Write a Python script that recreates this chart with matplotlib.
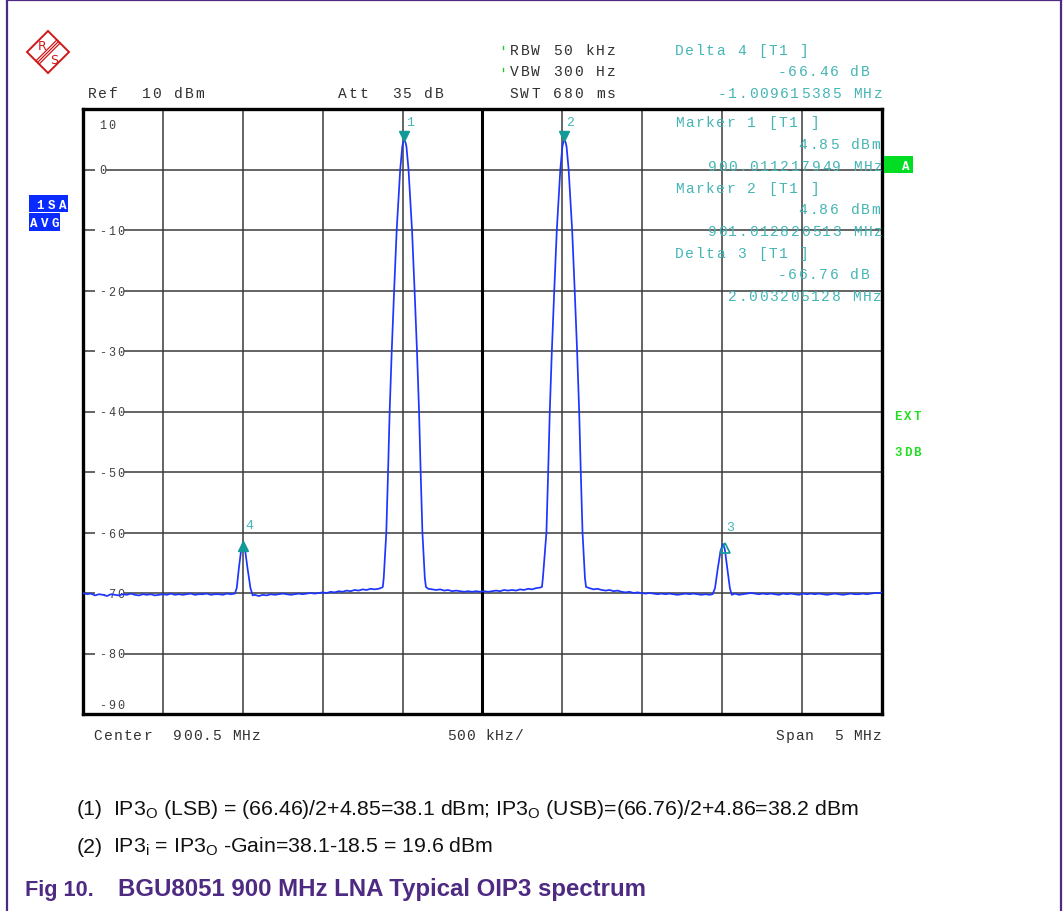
import numpy as np
import matplotlib
matplotlib.use('Agg')
import matplotlib.pyplot as plt
from matplotlib.patches import Rectangle, Polygon
from matplotlib.transforms import Affine2D, blended_transform_factory, offset_copy

# Analyzer settings
center_mhz = 900.5
span_mhz = 5.0
ref_dbm = 10
div_db = 10

# Markers read from the readout (marker 1/2 normal, 3/4 delta to marker 1)
marker_names = ['1', '2', '3', '4']
marker_mhz = [900.011217949, 901.012820513, 902.014423077, 899.001602564]
marker_dbm = [4.85, 4.86, -61.91, -61.61]

# Trace
trace_mhz = [
    898.000, 898.025, 898.050, 898.075, 898.100, 898.125, 898.150, 898.175, 898.200, 898.225,
    898.250, 898.275, 898.300, 898.325, 898.350, 898.375, 898.400, 898.425, 898.450, 898.475,
    898.500, 898.525, 898.550, 898.575, 898.600, 898.625, 898.650, 898.675, 898.700, 898.725,
    898.750, 898.775, 898.800, 898.825, 898.850, 898.875, 898.900, 898.925, 898.950,
    898.962, 898.975, 898.990, 899.002, 899.013, 899.030, 899.048, 899.062,
    899.075, 899.100, 899.125, 899.150, 899.175, 899.200, 899.225, 899.250, 899.275, 899.300,
    899.325, 899.350, 899.375, 899.400, 899.425, 899.450, 899.475, 899.500, 899.525, 899.550,
    899.575, 899.600, 899.625, 899.650, 899.675, 899.700, 899.725, 899.750, 899.775, 899.800,
    899.825, 899.850, 899.870,
    899.876, 899.882, 899.898, 899.909, 899.919, 899.932, 899.947, 899.963, 899.985, 899.998,
    900.005, 900.011, 900.017, 900.024, 900.037, 900.059, 900.075, 900.090, 900.103, 900.113,
    900.124, 900.139, 900.146,
    900.160, 900.185, 900.210, 900.235, 900.260, 900.285, 900.310, 900.335, 900.360, 900.385,
    900.410, 900.435, 900.460, 900.485, 900.510, 900.535, 900.560, 900.585, 900.610, 900.635,
    900.660, 900.685, 900.710, 900.735, 900.760, 900.785, 900.810, 900.835, 900.860, 900.872,
    900.878, 900.900, 900.911, 900.921, 900.934, 900.949, 900.965, 900.987, 901.000, 901.007,
    901.013, 901.019, 901.026, 901.039, 901.061, 901.077, 901.092, 901.105, 901.115, 901.126,
    901.141, 901.148,
    901.170, 901.195, 901.220, 901.245, 901.270, 901.295, 901.320, 901.345, 901.370, 901.395,
    901.420, 901.445, 901.470, 901.495, 901.520, 901.545, 901.570, 901.595, 901.620, 901.645,
    901.670, 901.695, 901.720, 901.745, 901.770, 901.795, 901.820, 901.845, 901.870, 901.895,
    901.920, 901.940,
    901.955, 901.972, 901.990, 902.005, 902.016, 902.032, 902.048, 902.060,
    902.080, 902.105, 902.130, 902.155, 902.180, 902.205, 902.230, 902.255, 902.280, 902.305,
    902.330, 902.355, 902.380, 902.405, 902.430, 902.455, 902.480, 902.505, 902.530, 902.555,
    902.580, 902.605, 902.630, 902.655, 902.680, 902.705, 902.730, 902.755, 902.780, 902.805,
    902.830, 902.855, 902.880, 902.905, 902.930, 902.955, 902.980, 903.000,
]
trace_dbm = [
    -70.0, -70.2, -70.1, -70.4, -70.2, -70.3, -70.5, -70.2, -70.3, -70.4,
    -70.2, -70.3, -70.1, -70.3, -70.4, -70.2, -70.3, -70.2, -70.4, -70.3,
    -70.2, -70.3, -70.1, -70.3, -70.2, -70.3, -70.2, -70.1, -70.3, -70.2,
    -70.2, -70.1, -70.3, -70.2, -70.2, -70.3, -70.1, -70.2, -70.1,
    -69.2, -66.0, -62.8, -61.6, -62.6, -66.0, -69.2, -70.4,
    -70.3, -70.5, -70.3, -70.4, -70.2, -70.3, -70.2, -70.1, -70.2, -70.3,
    -70.2, -70.1, -70.2, -70.1, -70.0, -70.1, -70.0, -69.9, -70.0, -69.8,
    -69.9, -69.7, -69.8, -69.6, -69.7, -69.5, -69.6, -69.4, -69.5, -69.3,
    -69.4, -69.3, -69.1,
    -69.0, -67.5, -60.0, -50.0, -40.0, -30.0, -20.0, -10.0, 0.0, 3.8,
    4.6, 4.85, 4.6, 3.8, 0.0, -10.0, -20.0, -30.0, -40.0, -50.0,
    -60.0, -67.5, -69.0,
    -69.3, -69.4, -69.5, -69.4, -69.6, -69.5, -69.7, -69.6, -69.7, -69.8,
    -69.7, -69.8, -69.7, -69.8, -69.7, -69.8, -69.7, -69.6, -69.7, -69.5,
    -69.6, -69.5, -69.6, -69.4, -69.5, -69.3, -69.4, -69.2, -69.1, -69.0,
    -67.5, -60.0, -50.0, -40.0, -30.0, -20.0, -10.0, 0.0, 3.8, 4.6,
    4.86, 4.6, 3.8, 0.0, -10.0, -20.0, -30.0, -40.0, -50.0, -60.0,
    -67.5, -69.0,
    -69.2, -69.4, -69.3, -69.5, -69.6, -69.5, -69.7, -69.6, -69.8, -69.9,
    -69.8, -70.0, -69.9, -70.0, -70.1, -70.0, -70.1, -70.2, -70.1, -70.2,
    -70.1, -70.2, -70.3, -70.2, -70.1, -70.2, -70.1, -70.2, -70.3, -70.2,
    -70.3, -70.2,
    -69.2, -66.0, -63.0, -61.9, -62.7, -66.0, -69.2, -70.3,
    -70.1, -70.3, -70.2, -70.1, -70.0, -70.1, -70.2, -70.1, -70.2, -70.1,
    -70.2, -70.3, -70.1, -70.2, -70.1, -70.2, -70.3, -70.1, -70.2, -70.1,
    -70.2, -70.1, -70.2, -70.3, -70.2, -70.1, -70.2, -70.3, -70.2, -70.1,
    -70.2, -70.2, -70.1, -70.2, -70.1, -70.0, -70.0, -69.9,
]

# Screen texts
header_left = ['Ref  10 dBm', 'Att  35 dB']
header_mid = ['RBW 50 kHz', 'VBW 300 Hz', 'SWT 680 ms']
readout = ['Delta 4 [T1 ]', '-66.46 dB', '-1.009615385 MHz',
           'Marker 1 [T1 ]', '4.85 dBm', '900.011217949 MHz',
           'Marker 2 [T1 ]', '4.86 dBm', '901.012820513 MHz',
           'Delta 3 [T1 ]', '-66.76 dB', '2.003205128 MHz']
footer = ['Center  900.5 MHz', '500 kHz/', 'Span  5 MHz']
note1 = r'IP3$_\mathrm{O}$ (LSB) = (66.46)/2+4.85=38.1 dBm; IP3$_\mathrm{O}$ (USB)=(66.76)/2+4.86=38.2 dBm'
note2 = r'IP3$_\mathrm{i}$ = IP3$_\mathrm{O}$ -Gain=38.1-18.5 = 19.6 dBm'
caption_no = 'Fig 10.'
caption = 'BGU8051 900 MHz LNA Typical OIP3 spectrum'

plt.rcParams['mathtext.fontset'] = 'custom'
plt.rcParams['mathtext.rm'] = 'Liberation Sans'
plt.rcParams['mathtext.it'] = 'Liberation Sans:italic'

W, H = 1063, 912
MONO = 'Liberation Mono'
TXT = '#303030'
CYAN = '#45b5b5'
TEAL = '#129a9a'
PURPLE = '#4e2a82'

fig = plt.figure(figsize=(W / 100, H / 100), dpi=100)
# pixel transform (origin top-left)
pix = Affine2D().scale(1 / W, -1 / H).translate(0, 1) + fig.transFigure


def box(l, t, r, b):
    return [l / W, 1 - b / H, (r - l) / W, (b - t) / H]


def spaced(axx, x, y, s, pitch, clip=None, **kw):
    # instrument font has wide letter spacing, so place characters one by one
    for i, ch in enumerate(s):
        if ch != ' ':
            t = axx.text(x + i * pitch, y, ch, ha='center', va='baseline', **kw)
            if clip is not None:
                t.set_clip_path(clip)


# --- screen grid ---
ax = fig.add_axes(box(83, 110, 882, 715))
ax.set_xlim(center_mhz - span_mhz / 2, center_mhz + span_mhz / 2)
ax.set_ylim(ref_dbm - 10 * div_db, ref_dbm)
ax.set_xticks(np.linspace(center_mhz - span_mhz / 2, center_mhz + span_mhz / 2, 11))
ax.set_yticks(np.arange(ref_dbm - 10 * div_db, ref_dbm + 1, div_db))
ax.grid(True, color='#3a3a3a', lw=1.1)
ax.tick_params(length=0, labelbottom=False, labelleft=False)
for sp in ax.spines.values():
    sp.set_linewidth(2.4)
    sp.set_color('black')
ax.axvline(center_mhz, color='black', lw=2.2, zorder=1.6)

# level labels inside the grid
lab_tr = blended_transform_factory(pix, ax.transData)
lab_base = offset_copy(lab_tr, fig, x=0, y=-4, units='dots')
for v in ax.get_yticks():
    s = '%d' % v
    yv = min(max(v, ref_dbm - 10 * div_db + 1.7), ref_dbm - 2.5)
    ax.add_patch(Rectangle((95, yv - 0.9), len(s) * 9 + 2, 1.8, transform=lab_tr,
                           facecolor='white', edgecolor='none', zorder=2))
    spaced(ax, 103, yv, s, 9, transform=lab_base, fontfamily=MONO, fontsize=8.5,
           color='#404040', zorder=3)

ax.plot(trace_mhz, trace_dbm, color='#1d35ff', lw=1.25, zorder=4)

# marker symbols
down = offset_copy(ax.transData, fig, x=0, y=4, units='dots')
up = offset_copy(ax.transData, fig, x=0, y=-4, units='dots')
ax.plot(marker_mhz[:2], marker_dbm[:2], 'v', ms=7, color=TEAL, transform=down, zorder=5)
ax.plot(marker_mhz[3], marker_dbm[3], '^', ms=7, color=TEAL, transform=up, zorder=5)
ax.plot(marker_mhz[2], marker_dbm[2], '^', ms=7, mfc='none', mec=TEAL, mew=1.2,
        transform=up, zorder=5)
for name, f, v in zip(marker_names, marker_mhz, marker_dbm):
    dy = 15 if v > -30 else 14
    ax.text(f, v, name, transform=offset_copy(ax.transData, fig, x=6, y=dy, units='dots'),
            ha='center', va='baseline', fontfamily=MONO, fontsize=9.5, color=CYAN, zorder=5)

# --- overlay in pixel coordinates ---
ov = fig.add_axes([0, 0, 1, 1], zorder=5)
ov.set_xlim(0, W)
ov.set_ylim(H, 0)
ov.axis('off')
ov.patch.set_alpha(0)

# page frame
ov.plot([7, 7], [0, H], color=PURPLE, lw=1.6)
ov.plot([7, 1061], [1, 1], color=PURPLE, lw=1.6)
ov.plot([1061, 1061], [1, H], color=PURPLE, lw=1.6)

# R&S logo
ov.add_patch(Polygon([(27, 53), (48, 32), (69, 53), (48, 74)], closed=True,
                     facecolor='none', edgecolor='#d01818', lw=1.4))
for d in (-1.6, 0, 1.6):
    ov.plot([37.5 + d, 58.5 + d], [63.5 + d, 42.5 + d], color='#d01818', lw=0.9)
ov.text(42, 50, 'R', fontsize=9, color='#d01818', ha='center', va='baseline')
ov.text(54, 64, 'S', fontsize=9, color='#d01818', ha='center', va='baseline')

mono = dict(fontfamily=MONO, fontsize=10.5)
spaced(ov, 92, 98, header_left[0], 10.8, color=TXT, **mono)
spaced(ov, 342, 98, header_left[1], 10.8, color=TXT, **mono)
for s, yb in zip(header_mid, [55, 76, 98]):
    spaced(ov, 514, yb, s, 10.8, color=TXT, **mono)
for yb in (52, 74):
    ov.plot([503, 503], [yb - 5, yb - 2], color='#22cc22', lw=1)

read_x = [679, 782, 722, 679, 803, 712, 679, 803, 712, 679, 782, 732]
read_y = [55, 76, 98, 127, 149, 171, 193, 214, 236, 258, 279, 301]
for s, x, yb in zip(readout, read_x, read_y):
    spaced(ov, x, yb, s, 10.4, color=CYAN, **mono)

# side annotations
ov.add_patch(Rectangle((884, 157), 29, 17, facecolor='#00dd22', edgecolor='none'))
ov.text(906, 170, 'A', fontfamily=MONO, fontsize=9, fontweight='bold', color='white',
        ha='center', va='baseline')
sa_box = Rectangle((29, 196), 39, 17, facecolor='#0a2bff', edgecolor='none')
avg_box = Rectangle((29, 214), 31, 18, facecolor='#0a2bff', edgecolor='none')
ov.add_patch(sa_box)
ov.add_patch(avg_box)
side = dict(fontfamily=MONO, fontsize=9, fontweight='bold', color='white')
spaced(ov, 40, 209, '1', 11, **side)
spaced(ov, 52, 209, 'SA', 11, clip=sa_box, **side)
spaced(ov, 34, 227, 'AVG', 10.5, clip=avg_box, **side)
ext_clip = Rectangle((890, 400), 29, 70, facecolor='none', edgecolor='none')
ov.add_patch(ext_clip)
ext = dict(fontfamily=MONO, fontsize=9, fontweight='bold', color='#22dd22')
spaced(ov, 898, 420, 'EXT', 9.5, clip=ext_clip, **ext)
spaced(ov, 898, 456, '3DB', 9.5, clip=ext_clip, **ext)

spaced(ov, 98, 740, footer[0], 9.9, color=TXT, **mono)
spaced(ov, 451, 740, footer[1], 9.7, color=TXT, **mono)
spaced(ov, 780, 740, footer[2], 9.7, color=TXT, **mono)

# notes and caption
sans = dict(fontfamily='Liberation Sans', fontsize=15.3, color='#111111', va='baseline')
ov.text(77, 815, '(1)', **sans)
ov.text(113, 815, note1, **sans)
ov.text(77, 853, '(2)', **sans)
ov.text(113, 853, note2, **sans)
cap = dict(fontweight='bold', color=PURPLE, va='baseline', fontfamily='Liberation Sans')
ov.text(25, 896, caption_no, fontsize=15.6, **cap)
ov.text(118, 896, caption, fontsize=17.3, **cap)

fig.savefig('out.png', dpi=100)
